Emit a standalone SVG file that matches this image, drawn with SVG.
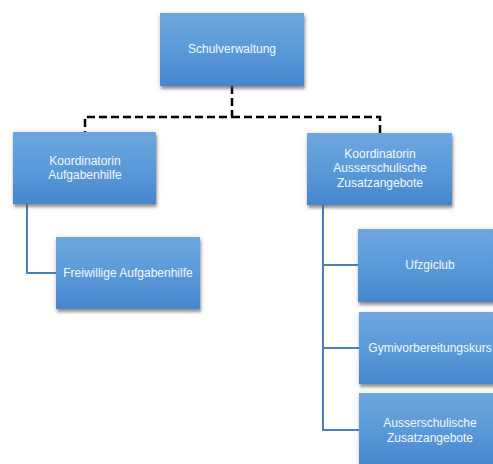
<svg xmlns="http://www.w3.org/2000/svg" width="493" height="464" viewBox="0 0 493 464">
<style>
.box{fill:url(#g);filter:url(#sh)}
.t{font-family:"Liberation Sans",Arial,sans-serif;font-size:12px;fill:#f4f8fc;text-anchor:middle;dominant-baseline:central}
.dash{fill:none;stroke:#000;stroke-width:2.5;stroke-dasharray:8 4}
.blue{fill:none;stroke:#4a7fbd;stroke-width:2}
</style>
<defs>
<linearGradient id="g" x1="0" y1="0" x2="0" y2="1">
<stop offset="0" stop-color="#6ea7de"/>
<stop offset="0.5" stop-color="#5a9ad9"/>
<stop offset="1" stop-color="#4686cc"/>
</linearGradient>
<filter id="sh" x="-10%" y="-10%" width="125%" height="130%">
<feGaussianBlur in="SourceAlpha" stdDeviation="1.5" result="b"/>
<feOffset in="b" dx="1" dy="3" result="o"/>
<feFlood flood-color="#555" flood-opacity="0.6"/>
<feComposite in2="o" operator="in" result="s"/>
<feGaussianBlur in="SourceAlpha" stdDeviation="3" result="b2"/>
<feFlood flood-color="#888" flood-opacity="0.25"/>
<feComposite in2="b2" operator="in" result="s2"/>
<feMerge><feMergeNode in="s2"/><feMergeNode in="s"/><feMergeNode in="SourceGraphic"/></feMerge>
</filter>
</defs>
<g id="connectors">
<path class="dash" d="M232 86 V117 H85 V132 M232 117 H380 V133"/>
<path class="blue" d="M27 204 V273 H56"/>
<path class="blue" d="M323 205 V430 H359 M323 265 H358 M323 348 H359"/>
</g>
<g id="n-schulverwaltung">
<rect class="box" x="160" y="13" width="144" height="73"/>
<text class="t" x="232" y="49">Schulverwaltung</text>
</g>
<g id="n-koord-aufgabenhilfe">
<rect class="box" x="13" y="132" width="143" height="72"/>
<text class="t" x="85" y="161">Koordinatorin</text>
<text class="t" x="85" y="175">Aufgabenhilfe</text>
</g>
<g id="n-koord-zusatz">
<rect class="box" x="307" y="133" width="145" height="72"/>
<text class="t" x="380" y="154">Koordinatorin</text>
<text class="t" x="380" y="168">Ausserschulische</text>
<text class="t" x="380" y="183">Zusatzangebote</text>
</g>
<g id="n-freiwillige">
<rect class="box" x="56" y="237" width="144" height="72"/>
<text class="t" x="128" y="273">Freiwillige Aufgabenhilfe</text>
</g>
<g id="n-ufzgiclub">
<rect class="box" x="358" y="229" width="144" height="73"/>
<text class="t" x="430" y="265">Ufzgiclub</text>
</g>
<g id="n-gymi">
<rect class="box" x="359" y="312" width="144" height="72"/>
<text class="t" x="430" y="348">Gymivorbereitungskurs</text>
</g>
<g id="n-ausserschulische">
<rect class="box" x="359" y="393" width="144" height="73"/>
<text class="t" x="430" y="423">Ausserschulische</text>
<text class="t" x="430" y="438">Zusatzangebote</text>
</g>
</svg>
